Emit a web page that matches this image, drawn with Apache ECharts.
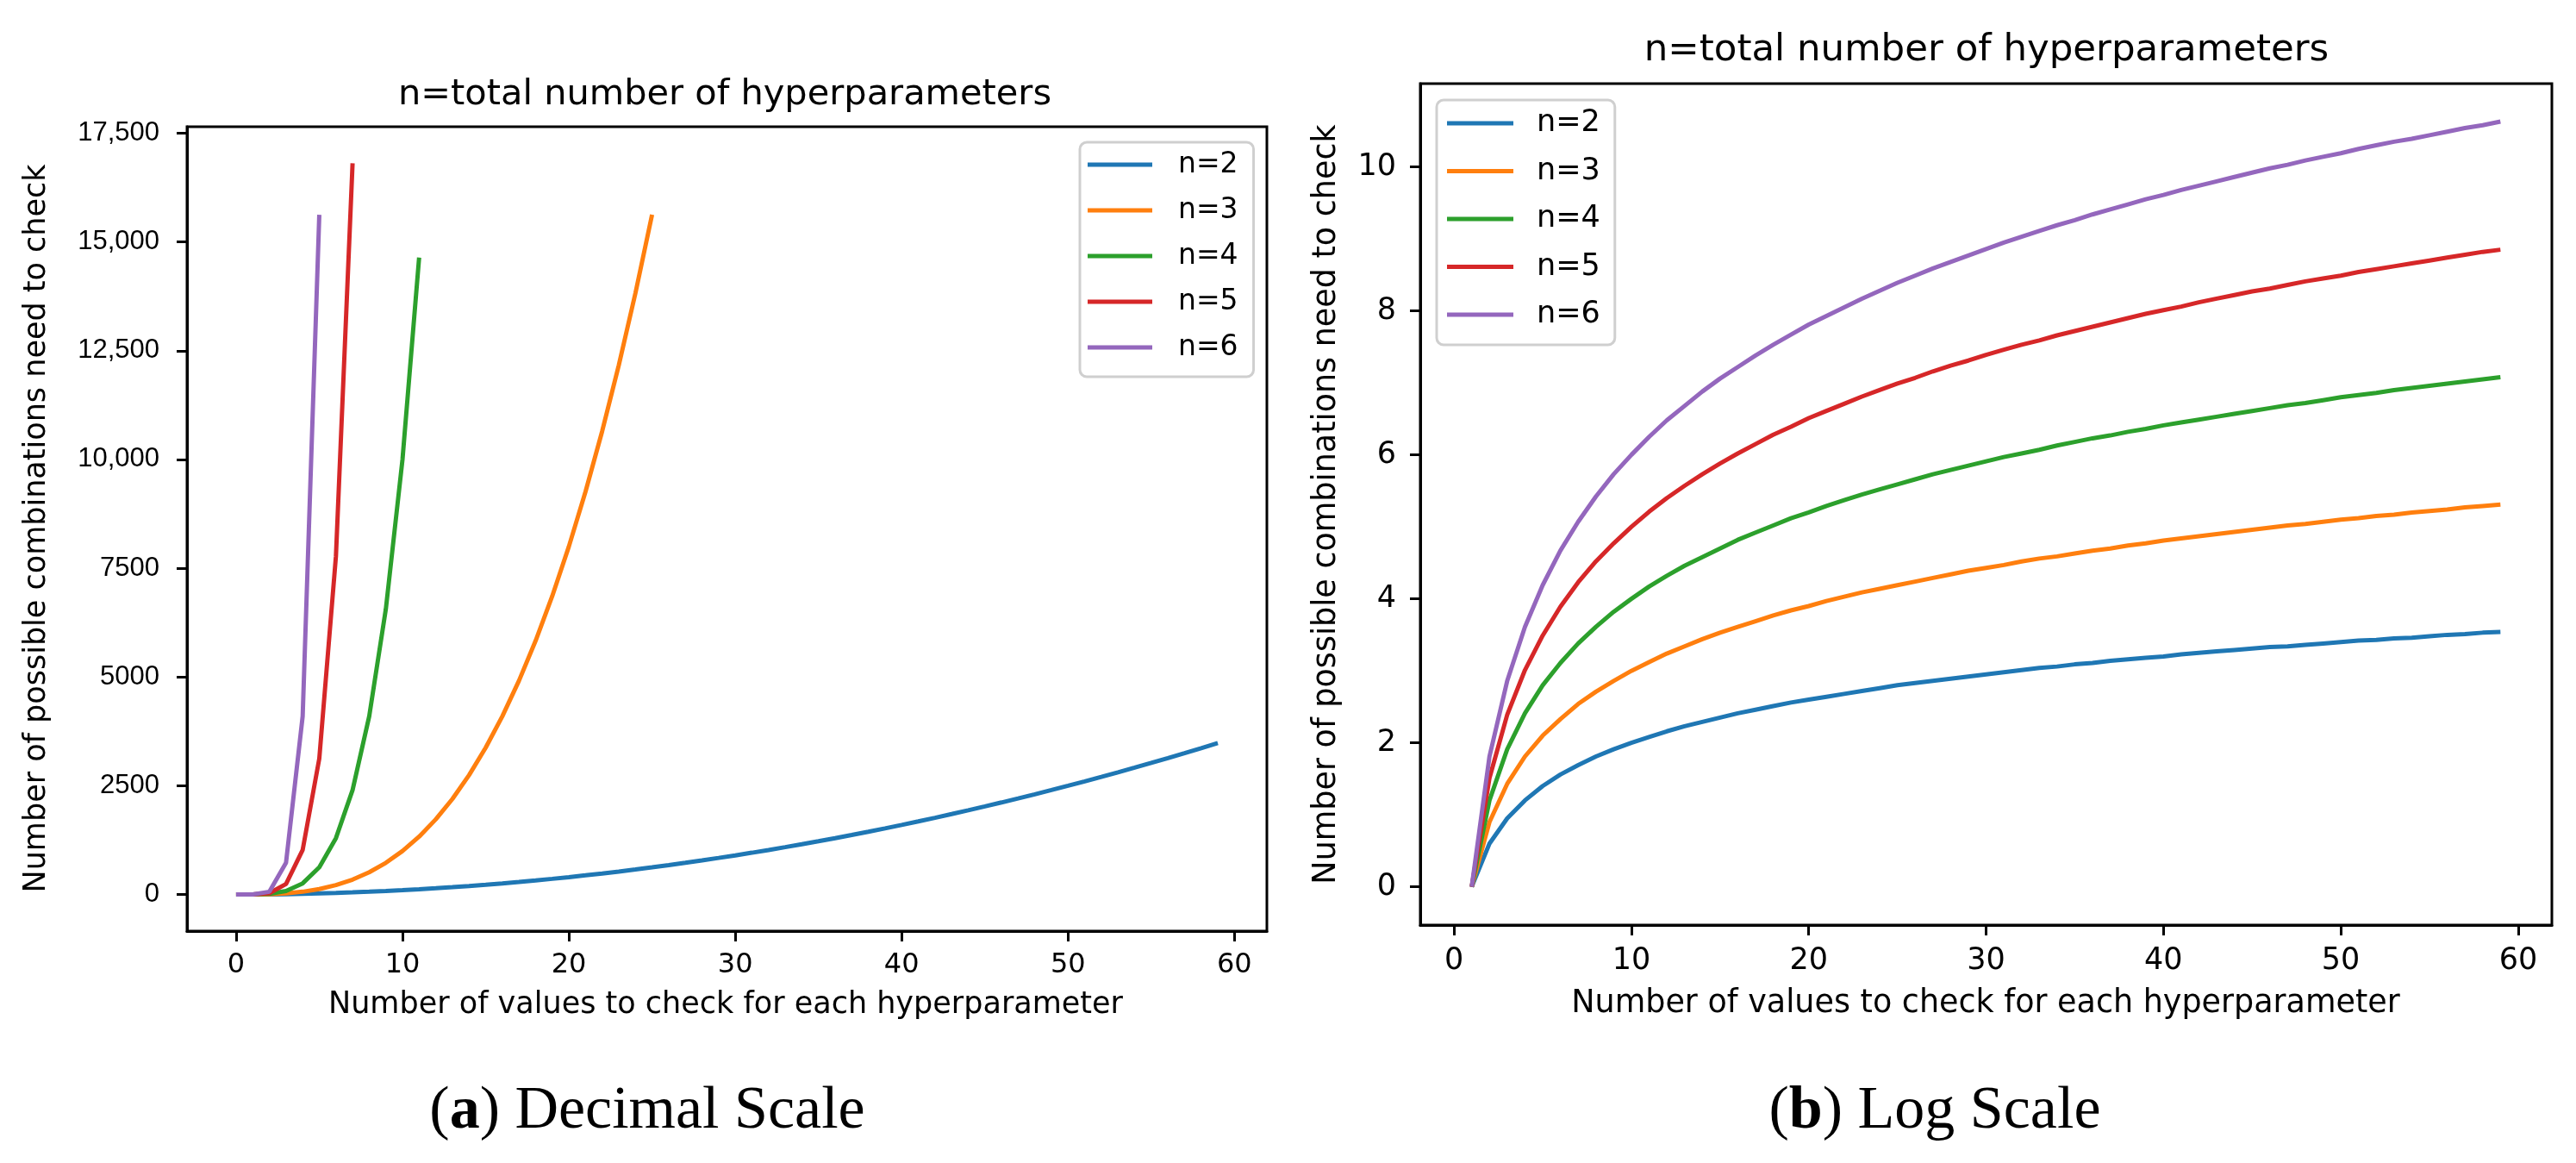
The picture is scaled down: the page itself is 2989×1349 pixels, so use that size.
<!DOCTYPE html>
<html>
<head>
<meta charset="utf-8">
<script src="https://cdn.jsdelivr.net/npm/echarts@6/dist/echarts.min.js"></script>
<style>
html,body{margin:0;padding:0;background:#fff;}
#chart{width:2989px;height:1349px;}
</style>
</head>
<body>
<div id="chart"></div>
<script>
// ---------- DATA ----------
const seriesNames = ['n=2', 'n=3', 'n=4', 'n=5', 'n=6'];
const colors = ['#1f77b4', '#ff7f0e', '#2ca02c', '#d62728', '#9467bd'];

// (a) Decimal scale: x = number of values per hyperparameter
const xDec2 = [0,1,2,3,4,5,6,7,8,9,10,11,12,13,14,15,16,17,18,19,20,21,22,23,24,25,26,27,28,29,30,31,32,33,34,35,36,37,38,39,40,41,42,43,44,45,46,47,48,49,50,51,52,53,54,55,56,57,58,59];
const yDec2 = [0,1,4,9,16,25,36,49,64,81,100,121,144,169,196,225,256,289,324,361,400,441,484,529,576,625,676,729,784,841,900,961,1024,1089,1156,1225,1296,1369,1444,1521,1600,1681,1764,1849,1936,2025,2116,2209,2304,2401,2500,2601,2704,2809,2916,3025,3136,3249,3364,3481];
const xDec3 = [0,1,2,3,4,5,6,7,8,9,10,11,12,13,14,15,16,17,18,19,20,21,22,23,24,25];
const yDec3 = [0,1,8,27,64,125,216,343,512,729,1000,1331,1728,2197,2744,3375,4096,4913,5832,6859,8000,9261,10648,12167,13824,15625];
const xDec4 = [0,1,2,3,4,5,6,7,8,9,10,11];
const yDec4 = [0,1,16,81,256,625,1296,2401,4096,6561,10000,14641];
const xDec5 = [0,1,2,3,4,5,6,7];
const yDec5 = [0,1,32,243,1024,3125,7776,16807];
const xDec6 = [0,1,2,3,4,5];
const yDec6 = [0,1,64,729,4096,15625];

// (b) Log scale
const xLog = [1,2,3,4,5,6,7,8,9,10,11,12,13,14,15,16,17,18,19,20,21,22,23,24,25,26,27,28,29,30,31,32,33,34,35,36,37,38,39,40,41,42,43,44,45,46,47,48,49,50,51,52,53,54,55,56,57,58,59];
const yLog2 = [0,0.60,0.95,1.20,1.40,1.56,1.69,1.81,1.91,2.00,2.08,2.16,2.23,2.29,2.35,2.41,2.46,2.51,2.56,2.60,2.64,2.68,2.72,2.76,2.80,2.83,2.86,2.89,2.92,2.95,2.98,3.01,3.04,3.06,3.09,3.11,3.14,3.16,3.18,3.20,3.23,3.25,3.27,3.29,3.31,3.33,3.34,3.36,3.38,3.40,3.42,3.43,3.45,3.46,3.48,3.50,3.51,3.53,3.54];
const yLog3 = [0,0.90,1.43,1.81,2.10,2.33,2.54,2.71,2.86,3.00,3.12,3.24,3.34,3.44,3.53,3.61,3.69,3.77,3.84,3.90,3.97,4.03,4.09,4.14,4.19,4.24,4.29,4.34,4.39,4.43,4.47,4.52,4.56,4.59,4.63,4.67,4.70,4.74,4.77,4.81,4.84,4.87,4.90,4.93,4.96,4.99,5.02,5.04,5.07,5.10,5.12,5.15,5.17,5.20,5.22,5.24,5.27,5.29,5.31];
const yLog4 = [0,1.20,1.91,2.41,2.80,3.11,3.38,3.61,3.82,4.00,4.17,4.32,4.46,4.58,4.70,4.82,4.92,5.02,5.12,5.20,5.29,5.37,5.45,5.52,5.59,5.66,5.73,5.79,5.85,5.91,5.97,6.02,6.07,6.13,6.18,6.23,6.27,6.32,6.36,6.41,6.45,6.49,6.53,6.57,6.61,6.65,6.69,6.72,6.76,6.80,6.83,6.86,6.90,6.93,6.96,6.99,7.02,7.05,7.08];
const yLog5 = [0,1.51,2.39,3.01,3.49,3.89,4.23,4.52,4.77,5.00,5.21,5.40,5.57,5.73,5.88,6.02,6.15,6.28,6.39,6.51,6.61,6.71,6.81,6.90,6.99,7.07,7.16,7.24,7.31,7.39,7.46,7.53,7.59,7.66,7.72,7.78,7.84,7.90,7.96,8.01,8.06,8.12,8.17,8.22,8.27,8.31,8.36,8.41,8.45,8.49,8.54,8.58,8.62,8.66,8.70,8.74,8.78,8.82,8.85];
const yLog6 = [0,1.81,2.86,3.61,4.19,4.67,5.07,5.42,5.73,6.00,6.25,6.48,6.68,6.88,7.06,7.22,7.38,7.53,7.67,7.81,7.93,8.05,8.17,8.28,8.39,8.49,8.59,8.68,8.77,8.86,8.95,9.03,9.11,9.19,9.26,9.34,9.41,9.48,9.55,9.61,9.68,9.74,9.80,9.86,9.92,9.98,10.03,10.09,10.14,10.19,10.25,10.30,10.35,10.39,10.44,10.49,10.54,10.58,10.63];

// tick values / labels
const xTickValues = [0, 10, 20, 30, 40, 50, 60];
const xTickLabels = ['0', '10', '20', '30', '40', '50', '60'];
const yDecTickValues = [0, 2500, 5000, 7500, 10000, 12500, 15000, 17500];
const yDecTickLabels = ['0', '2500', '5000', '7500', '10,000', '12,500', '15,000', '17,500'];
const yLogTickValues = [0, 2, 4, 6, 8, 10];
const yLogTickLabels = ['0', '2', '4', '6', '8', '10'];

const titleText = 'n=total number of hyperparameters';
const xName = 'Number of values to check for each hyperparameter';
const yName = 'Number of possible combinations need to check';

// ---------- CHART ----------
const pair = (xs, ys) => xs.map((x, i) => [x, ys[i]]);
const decData = [pair(xDec2, yDec2), pair(xDec3, yDec3), pair(xDec4, yDec4), pair(xDec5, yDec5), pair(xDec6, yDec6)];
const logData = [yLog2, yLog3, yLog4, yLog5, yLog6].map(ys => pair(xLog, ys));

const DJ = 'DejaVu Sans';
const lbl = (vals, labs) => (v) => { const i = vals.indexOf(v); return i >= 0 ? labs[i] : ''; };

function xAxisCfg(grid, min, max, fs, margin) {
  return {
    type: 'value', gridIndex: grid, min: min, max: max,
    axisLine: { show: true, onZero: false, lineStyle: { color: '#000', width: 3 } },
    axisTick: { show: true, customValues: xTickValues, length: 12, lineStyle: { color: '#000', width: 3 } },
    axisLabel: { show: true, customValues: xTickValues, margin: margin, color: '#000', fontFamily: DJ, fontSize: fs,
      formatter: lbl(xTickValues, xTickLabels) },
    splitLine: { show: false }
  };
}
function yAxisCfg(grid, min, max, vals, labs, fs, ff, margin) {
  return {
    type: 'value', gridIndex: grid, min: min, max: max,
    axisLine: { show: true, onZero: false, lineStyle: { color: '#000', width: 3 } },
    axisTick: { show: true, customValues: vals, length: 12, lineStyle: { color: '#000', width: 3 } },
    axisLabel: { show: true, customValues: vals, margin: margin, color: '#000', fontFamily: ff, fontSize: fs,
      formatter: lbl(vals, labs) },
    splitLine: { show: false }
  };
}

const series = [];
seriesNames.forEach((name, i) => {
  series.push({ name: name, type: 'line', xAxisIndex: 0, yAxisIndex: 0, data: decData[i],
    showSymbol: false, symbol: 'none', color: colors[i], lineStyle: { width: 5, color: colors[i] }, z: 2 + i });
  series.push({ name: name, type: 'line', xAxisIndex: 1, yAxisIndex: 1, data: logData[i],
    showSymbol: false, symbol: 'none', color: colors[i], lineStyle: { width: 5, color: colors[i] }, z: 2 + i });
});

function legendCfg(left, top, pad, iw, fs, gap, textPadLeft) {
  return {
    orient: 'vertical', left: left, top: top, padding: pad,
    itemWidth: iw, itemHeight: 5, itemGap: gap, icon: 'rect',
    itemStyle: { borderWidth: 0 },
    textStyle: { fontFamily: DJ, fontSize: fs, lineHeight: fs, color: '#000', padding: [0, 0, 0, textPadLeft] },
    borderColor: '#cfcfcf', borderWidth: 3, borderRadius: 8, backgroundColor: 'rgba(255,255,255,0.8)',
    data: seriesNames, selectedMode: false
  };
}

const chart = echarts.init(document.getElementById('chart'), null, { renderer: 'canvas' });
chart.setOption({
  animation: false,
  backgroundColor: '#fff',
  grid: [
    { left: 217, top: 147, width: 1253, height: 933, show: true, borderColor: '#000', borderWidth: 3, backgroundColor: 'transparent' },
    { left: 1648, top: 97, width: 1313, height: 976, show: true, borderColor: '#000', borderWidth: 3, backgroundColor: 'transparent' }
  ],
  xAxis: [
    xAxisCfg(0, -2.95, 61.95, 32, 24),
    xAxisCfg(1, -1.9, 61.9, 35, 24)
  ],
  yAxis: [
    yAxisCfg(0, -840.35, 17647.35, yDecTickValues, yDecTickLabels, 31, 'Liberation Sans', 32),
    yAxisCfg(1, -0.5313, 11.157, yLogTickValues, yLogTickLabels, 35, DJ, 28)
  ],
  legend: [
    legendCfg(1253, 165, [9.5, 18, 17.5, 9], 75, 33, 20, 25),
    legendCfg(1667, 116, [9.5, 17, 17.5, 12], 77, 35, 20.5, 22)
  ],
  series: series,
  graphic: [
    { type: 'text', x: 841, y: 110, style: { text: titleText, font: '41.5px "DejaVu Sans"', fill: '#000', align: 'center', verticalAlign: 'middle' } },
    { type: 'text', x: 2305, y: 59, style: { text: titleText, font: '43.5px "DejaVu Sans"', fill: '#000', align: 'center', verticalAlign: 'middle' } },
    { type: 'text', x: 842, y: 1166, style: { text: xName, font: '35px "DejaVu Sans"', fill: '#000', align: 'center', verticalAlign: 'middle' } },
    { type: 'text', x: 2304, y: 1165, style: { text: xName, font: '36.5px "DejaVu Sans"', fill: '#000', align: 'center', verticalAlign: 'middle' } },
    { type: 'text', x: 43, y: 613, rotation: Math.PI / 2, style: { text: yName, font: '35px "DejaVu Sans"', fill: '#000', align: 'center', verticalAlign: 'middle' } },
    { type: 'text', x: 1540, y: 585, rotation: Math.PI / 2, style: { text: yName, font: '36.5px "DejaVu Sans"', fill: '#000', align: 'center', verticalAlign: 'middle' } },
    { type: 'text', x: 751, y: 1290, style: { text: '{n|(}{b|a}{n|) Decimal Scale}', align: 'center', verticalAlign: 'middle',
      rich: { n: { fontFamily: 'Liberation Serif', fontSize: 70, fill: '#000' }, b: { fontFamily: 'Liberation Serif', fontSize: 70, fontWeight: 'bold', fill: '#000' } } } },
    { type: 'text', x: 2245, y: 1290, style: { text: '{n|(}{b|b}{n|) Log Scale}', align: 'center', verticalAlign: 'middle',
      rich: { n: { fontFamily: 'Liberation Serif', fontSize: 70, fill: '#000' }, b: { fontFamily: 'Liberation Serif', fontSize: 70, fontWeight: 'bold', fill: '#000' } } } }
  ]
});
</script>
</body>
</html>
